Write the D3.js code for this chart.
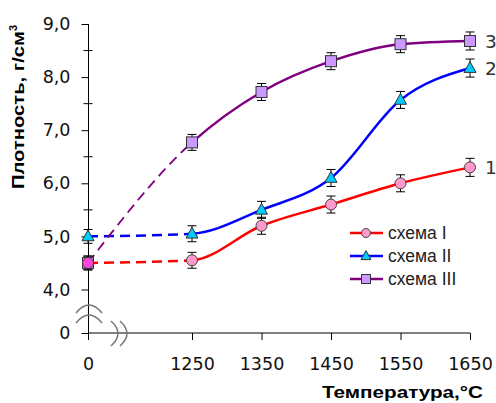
<!DOCTYPE html>
<html>
<head>
<meta charset="utf-8">
<script src="https://cdn.jsdelivr.net/npm/d3@7"></script>
<style>
body { margin: 0; background: #fff; }
text { font-family: "Liberation Sans", Arial, sans-serif; }
.num { font-family: "DejaVu Sans", sans-serif; }
</style>
</head>
<body>
<div id="chart"></div>
<script>
var svgwidth = 496;
var svgheight = 403;

// data
var temps = [0, 1250, 1350, 1450, 1550, 1650];
var xTickLabels = ["0", "1250", "1350", "1450", "1550", "1650"];
var yMajor = [0, 4, 5, 6, 7, 8, 9];
var yMinor = [4.5, 5.5, 6.5, 7.5, 8.5];
var seriesNames = ["схема I", "схема II", "схема III"];
var seriesTags = ["1", "2", "3"];
var scheme1 = [4.5, 4.55, 5.2, 5.6, 6.0, 6.3];
var scheme2 = [5.0, 5.05, 5.5, 6.1, 7.57, 8.17];
var scheme3 = [4.5, 6.77, 7.72, 8.3, 8.62, 8.68];
var errs = [0.13, 0.15, 0.16, 0.16, 0.16, 0.17];

var colors = ["#ff0000", "#0000ff", "#800080"];
var fills = ["#ff99cc", "#00ccff", "#cc99ff"];
var shapes = ["circle", "triangle", "square"];
var allSeries = [scheme1, scheme2, scheme3];

var svg = d3.select("#chart").append("svg").attr("width", svgwidth).attr("height", svgheight);

// broken axes -> piecewise scales
var x = d3.scaleLinear().domain([0, 1250, 1650]).range([88, 192, 470]);
var y = d3.scaleLinear().domain([0, 4, 9]).range([333, 289.5, 24]);

// axes
var xAxis = d3.axisBottom(x).tickValues(temps).tickSize(7).tickFormat(function(d, i) { return xTickLabels[i]; });
var yAxis = d3.axisLeft(y).tickValues(yMajor).tickSize(7).tickFormat(function(d) { return d === 0 ? "0" : d3.format(".1f")(d).replace(".", ","); });

var gx = svg.append("g").attr("transform", "translate(0,333)").call(xAxis);
gx.select(".domain").attr("d", "M88,0H470");
gx.selectAll("text").attr("class", "num").attr("font-size", 17.5).attr("y", 25).attr("dy", "0.71em").attr("fill", "#111");

var gy = svg.append("g").attr("transform", "translate(88.5,0)").call(yAxis);
gy.select(".domain").attr("d", "M0,24V340");
gy.selectAll("text").attr("class", "num").attr("font-size", 17.5).attr("x", -18).attr("fill", "#111");
gy.selectAll(".minor").data(yMinor).enter().append("line")
    .attr("class", "minor")
    .attr("x1", -5).attr("x2", 4)
    .attr("y1", d => y(d)).attr("y2", d => y(d))
    .attr("stroke", "#000");

// break marks
var brk = svg.append("g").attr("fill", "none").attr("stroke", "#777").attr("stroke-width", 1.5);
brk.append("path").attr("d", "M76,313 Q89,297 102,313");
brk.append("path").attr("d", "M76,323 Q89,307 102,323");
brk.append("path").attr("d", "M111,321 Q125,333.5 111,346");
brk.append("path").attr("d", "M120,321 Q134,333.5 120,346");

// clip regions for dashed / solid parts
var defs = svg.append("defs");
defs.append("clipPath").attr("id", "left").append("rect")
    .attr("x", 0).attr("y", 0).attr("width", x(1250)).attr("height", svgheight);
defs.append("clipPath").attr("id", "right").append("rect")
    .attr("x", x(1250)).attr("y", 0).attr("width", svgwidth).attr("height", svgheight);

var line = d3.line()
    .x((d, i) => x(temps[i]))
    .y(d => y(d))
    .curve(d3.curveMonotoneX);

allSeries.forEach(function(vals, s) {
    svg.append("path")
        .attr("d", line(vals))
        .attr("fill", "none")
        .attr("stroke", colors[s])
        .attr("stroke-width", s === 2 ? 1.8 : 2.5)
        .attr("stroke-dasharray", "10,6")
        .attr("clip-path", "url(#left)");
    svg.append("path")
        .attr("d", line(vals))
        .attr("fill", "none")
        .attr("stroke", colors[s])
        .attr("stroke-width", 2.5)
        .attr("clip-path", "url(#right)");
});

function marker(g, shape, cx, cy, size, fill) {
    if (shape === "circle") {
        g.append("circle").attr("cx", cx).attr("cy", cy).attr("r", size)
            .attr("fill", fill).attr("stroke", "#444").attr("stroke-width", 1);
    } else if (shape === "triangle") {
        var h = size * 1.8;
        g.append("path")
            .attr("d", "M" + cx + "," + (cy - h * 0.6) + "L" + (cx + size) + "," + (cy + h * 0.4) + "L" + (cx - size) + "," + (cy + h * 0.4) + "Z")
            .attr("fill", fill).attr("stroke", "#333").attr("stroke-width", 1);
    } else {
        g.append("rect").attr("x", cx - size).attr("y", cy - size).attr("width", size * 2).attr("height", size * 2)
            .attr("fill", fill).attr("stroke", "#333").attr("stroke-width", 1);
    }
}

// error bars + markers, series III first so I is on top at 0
[2, 1, 0].forEach(function(s) {
    var g = svg.append("g");
    allSeries[s].forEach(function(v, i) {
        var cx = x(temps[i]);
        var y1 = y(v - errs[i]), y2 = y(v + errs[i]);
        g.append("line").attr("x1", cx).attr("x2", cx).attr("y1", y1).attr("y2", y2).attr("stroke", "#000");
        g.append("line").attr("x1", cx - 4.5).attr("x2", cx + 4.5).attr("y1", y1).attr("y2", y1).attr("stroke", "#000");
        g.append("line").attr("x1", cx - 4.5).attr("x2", cx + 4.5).attr("y1", y2).attr("y2", y2).attr("stroke", "#000");
        var fill = (s === 0 && i === 0) ? "#ff44dd" : fills[s];
        marker(g, shapes[s], cx, y(v), s === 1 ? 6 : 5.5, fill);
    });
});

// series tags at right
var tagY = [scheme1[5], scheme2[5], scheme3[5]];
svg.selectAll(".tag").data(seriesTags).enter().append("text")
    .attr("class", "tag num")
    .attr("x", 485)
    .attr("y", (d, i) => y(tagY[i]) + 7)
    .attr("font-size", 18.5)
    .attr("fill", "#333")
    .text(d => d);

// legend
var legend = svg.append("g");
seriesNames.forEach(function(name, s) {
    var ly = 233 + s * 23;
    legend.append("line").attr("x1", 350).attr("x2", 383).attr("y1", ly).attr("y2", ly)
        .attr("stroke", colors[s]).attr("stroke-width", 2.5);
    marker(legend, shapes[s], 366, ly, s === 1 ? 5 : 4.5, fills[s]);
    legend.append("text").attr("x", 388).attr("y", ly + 6).attr("font-size", 17.5).attr("fill", "#222").text(name);
});

// axis titles
svg.append("text")
    .attr("x", 322).attr("y", 398)
    .attr("textLength", 161).attr("lengthAdjust", "spacingAndGlyphs")
    .attr("font-size", 17).attr("font-weight", "bold")
    .text("Температура,°C");

var yt = svg.append("text")
    .attr("transform", "translate(24,189) rotate(-90)")
    .attr("font-size", 17).attr("font-weight", "bold");
yt.append("tspan").attr("textLength", 158).attr("lengthAdjust", "spacingAndGlyphs").text("Плотность,  г/см");
yt.append("tspan").attr("font-size", 11).attr("dy", -7).text("3");
</script>
</body>
</html>
